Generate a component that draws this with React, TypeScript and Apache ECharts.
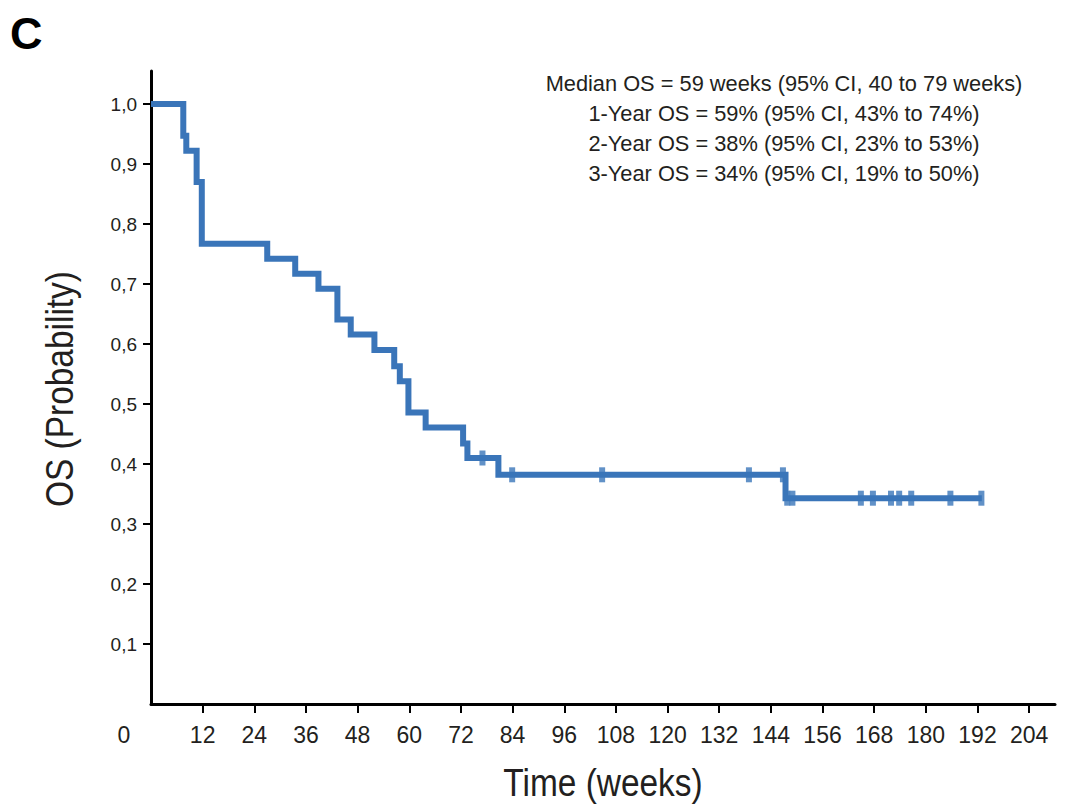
import React, { useEffect, useRef } from "react";
import * as echarts from "echarts";

// Kaplan-Meier step points (time in weeks, survival probability)
const eventTimes = [0, 7.5, 8.2, 10.6, 11.8, 27, 33.5, 38.9, 43.3, 46.4, 51.9, 56.5, 57.8, 59.8, 63.8, 72.5, 73.5, 80.7, 147.4, 193];
const survival = [1.0, 0.947, 0.922, 0.87, 0.767, 0.742, 0.717, 0.692, 0.641, 0.616, 0.59, 0.563, 0.538, 0.486, 0.461, 0.434, 0.41, 0.382, 0.343, 0.343];

// Censored observations
const censorTimes = [77, 83.9, 104.8, 138.9, 146.8, 147.8, 149, 164.9, 167.7, 171.9, 173.8, 176.6, 185.7, 192.9];
const censorSurv = [0.41, 0.382, 0.382, 0.382, 0.382, 0.343, 0.343, 0.343, 0.343, 0.343, 0.343, 0.343, 0.343, 0.343];

const xTicks = [12, 24, 36, 48, 60, 72, 84, 96, 108, 120, 132, 144, 156, 168, 180, 192, 204];
const yTicks = [0.1, 0.2, 0.3, 0.4, 0.5, 0.6, 0.7, 0.8, 0.9, 1.0];

const annotationLines = [
  "Median OS = 59 weeks (95% CI, 40 to 79 weeks)",
  "1-Year OS = 59% (95% CI, 43% to 74%)",
  "2-Year OS = 38% (95% CI, 23% to 53%)",
  "3-Year OS = 34% (95% CI, 19% to 50%)",
];

const panelLabel = "C";
const originLabel = "0";
const xName = "Time (weeks)";
const yName = "OS (Probability)";

const BLUE = "#3a75b9";
const INK = "#231f20";
const SANS = "'Liberation Sans', Arial, Helvetica, sans-serif";

export default function App() {
  const ref = useRef<HTMLDivElement>(null);

  useEffect(() => {
    if (!ref.current) return;
    const chart = echarts.init(ref.current, null, { renderer: "svg" });

    const kmData = eventTimes.map((t, i) => [t, survival[i]]);
    const censorData = censorTimes.map((t, i) => [t, censorSurv[i]]);

    chart.setOption({
      animation: false,
      backgroundColor: "#ffffff",
      grid: { left: 151, right: 25, top: 71, bottom: 105 },
      xAxis: {
        type: "value",
        min: 0,
        max: 210,
        axisLine: { show: true, onZero: false, lineStyle: { color: "#000", width: 3 } },
        axisTick: { show: true, customValues: xTicks, length: 9, lineStyle: { color: "#000", width: 2 } },
        axisLabel: {
          customValues: xTicks,
          margin: 19,
          fontFamily: SANS,
          fontSize: 23,
          color: INK,
        },
        splitLine: { show: false },
      },
      yAxis: {
        type: "value",
        min: 0,
        max: 1.055,
        axisLine: { show: true, onZero: false, lineStyle: { color: "#000", width: 3 } },
        axisTick: { show: true, customValues: yTicks, length: 8, lineStyle: { color: "#000", width: 2 } },
        axisLabel: {
          customValues: yTicks,
          margin: 14,
          fontFamily: SANS,
          fontSize: 19,
          color: INK,
          formatter: (v: number) => v.toFixed(1).replace(".", ","),
        },
        splitLine: { show: false },
      },
      graphic: [
        {
          type: "text",
          left: 10,
          top: 11,
          style: { text: panelLabel, fontFamily: SANS, fontWeight: "bold", fontSize: 45, fill: "#000" },
        },
        {
          type: "text",
          x: 124,
          y: 735,
          style: { text: originLabel, fontFamily: SANS, fontSize: 23, fill: INK, align: "center", verticalAlign: "middle" },
        },
        {
          type: "text",
          x: 603,
          y: 783,
          scaleX: 0.88,
          style: { text: xName, fontFamily: SANS, fontSize: 38, fill: INK, align: "center", verticalAlign: "middle" },
        },
        {
          type: "text",
          x: 60,
          y: 389,
          rotation: Math.PI / 2,
          scaleX: 0.88,
          style: { text: yName, fontFamily: SANS, fontSize: 38, fill: INK, align: "center", verticalAlign: "middle" },
        },
        {
          type: "text",
          x: 784,
          y: 68,
          style: {
            text: annotationLines.join("\n"),
            fontFamily: SANS,
            fontSize: 21.8,
            lineHeight: 30,
            fill: INK,
            align: "center",
            verticalAlign: "top",
          },
        },
      ],
      series: [
        {
          type: "line",
          data: kmData,
          step: "end",
          symbol: "none",
          lineStyle: { color: BLUE, width: 6, join: "miter", cap: "butt" },
          z: 2,
        },
        {
          type: "scatter",
          data: censorData,
          symbol: "rect",
          symbolSize: [6, 15],
          itemStyle: { color: BLUE },
          z: 3,
        },
      ],
    });

    return () => chart.dispose();
  }, []);

  return <div ref={ref} style={{ position: "absolute", left: 0, top: 0, width: 1080, height: 809 }} />;
}
